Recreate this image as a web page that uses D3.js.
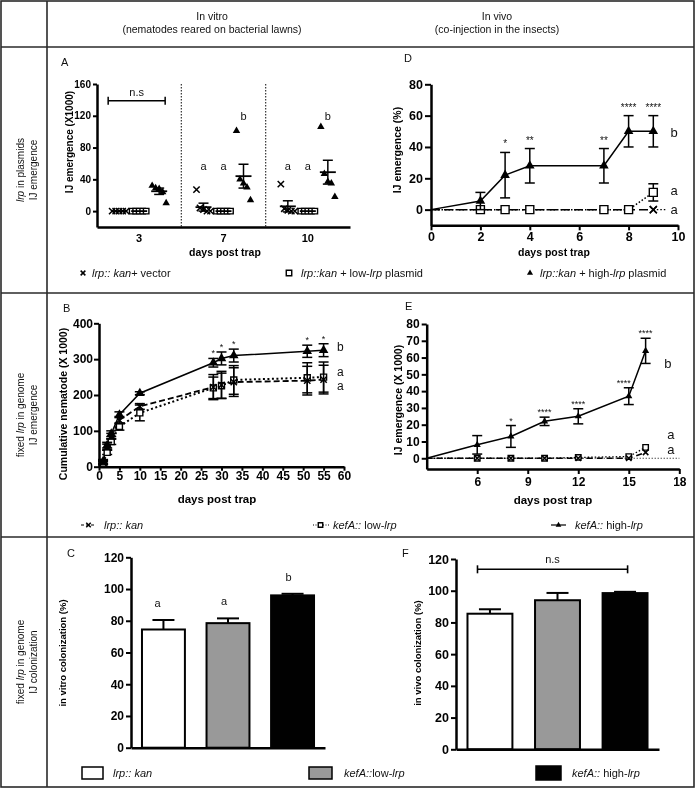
<!DOCTYPE html>
<html><head><meta charset="utf-8">
<script src="https://cdn.jsdelivr.net/npm/d3@7"></script>
<style>body{margin:0;background:#fff}svg{display:block;will-change:transform;opacity:0.999}text{white-space:pre}</style>
</head><body><script>
// ================= DATA =================
const headerLeft = ["In vitro", "(nematodes reared on bacterial lawns)"];
const headerRight = ["In vivo", "(co-injection in the insects)"];
const rowLabels = [
  [[["lrp", 1], [" in plasmids", 0]], [["IJ emergence", 0]]],
  [[["fixed ", 0], ["lrp", 1], [" in genome", 0]], [["IJ emergence", 0]]],
  [[["fixed ", 0], ["lrp", 1], [" in genome", 0]], [["IJ colonization", 0]]]
];

// Panel A (scatter, in vitro, plasmids)
const aDays = ["3", "7", "10"];
const aSeries = ["vector", "low", "high"];
const aVector = [[0, 0, 0, 0, 0], [27, 4, 2, 0, 0], [34, 3, 1, 0, 0]];
const aLow = [[0, 0, 0, 0, 0], [0, 0, 0, 0, 0], [0, 0, 0, 0, 0]];
const aHigh = [[32, 29, 28, 24, 10], [101, 40, 35, 30, 14], [106, 47, 37, 35, 18]];
const aMean = { vector: [0, 5, 6], low: [0, 0, 0], high: [25, 44, 49] };
const aSem = { vector: [0, 5, 7], low: [0, 0, 0], high: [4, 15, 15] };
const aLetters = [["", "", ""], ["a", "a", "b"], ["a", "a", "b"]];
const aYTicks = [0, 40, 80, 120, 160];

// Panel D (in vivo, plasmids, %)
const dDays = [0, 2, 3, 4, 7, 8, 9];
const dHigh = [0, 5.5, 22, 28, 28, 50, 50];
const dHighSem = [0, 5.5, 14.5, 11, 11, 10, 10];
const dLow = [0, 0, 0, 0, 0, 0, 11];
const dLowSem = [0, 0, 0, 0, 0, 0, 5.5];
const dVector = [0, 0, 0, 0, 0, 0, 0];
const dStars = ["", "", "*", "**", "**", "****", "****"];
const dYTicks = [0, 20, 40, 60, 80];
const dXTicks = [0, 2, 4, 6, 8, 10];

// Panel B (cumulative, in vitro, genome)
const bDays = [1, 2, 3, 5, 10, 28, 30, 33, 51, 55];
const bHigh = [15, 60, 92, 145, 205, 290, 302, 310, 322, 325];
const bHighSem = [5, 8, 8, 8, 4, 12, 18, 18, 17, 18];
const bKan = [12, 55, 85, 130, 168, 222, 228, 236, 240, 243];
const bKanSem = [5, 8, 8, 10, 8, 35, 38, 40, 40, 40];
const bLow = [10, 40, 70, 112, 150, 220, 226, 242, 248, 250];
const bLowSem = [5, 6, 8, 10, 22, 30, 35, 40, 42, 42];
const bStars = ["", "", "", "", "", "*", "*", "*", "*", "*"];
const bYTicks = [0, 100, 200, 300, 400];
const bXTicks = [0, 5, 10, 15, 20, 25, 30, 35, 40, 45, 50, 55, 60];

// Panel E (in vivo, genome)
const eDays = [3, 6, 8, 10, 12, 15, 16];
const eHigh = [0, 8, 13, 22, 25, 37, 64];
const eHighSem = [0, 5.5, 6.5, 2.5, 4.5, 5, 7.5];
const eLow = [0, 0, 0, 0, 0.5, 1, 6.5];
const eKan = [0, 0, 0, 0, 0, 0, 3.5];
const eStars = ["", "", "*", "****", "****", "****", "****"];
const eYTicks = [0, 10, 20, 30, 40, 50, 60, 70, 80];
const eXTicks = [6, 9, 12, 15, 18];

// Panels C & F (colonization bars)
const barGroups = ["lrp:: kan", "kefA::low-lrp", "kefA:: high-lrp"];
const barColors = ["#ffffff", "#999999", "#000000"];
const cValues = [74.5, 78.5, 96];
const cSem = [6, 3, 1];
const cLetters = ["a", "a", "b"];
const fValues = [85.5, 94, 98.5];
const fSem = [2.8, 4.6, 0.8];
const barYTicks = [0, 20, 40, 60, 80, 100, 120];

// ================= DRAWING =================
const FONT = "'Liberation Sans', Arial, Helvetica, sans-serif";
const svg = d3.select("body").append("svg").attr("width", 696).attr("height", 789)
  .attr("font-family", FONT);
svg.append("rect").attr("width", 696).attr("height", 789).attr("fill", "#fff");

const timesType = { draw(ctx, size) { const r = Math.sqrt(size) / 2; ctx.moveTo(-r, -r); ctx.lineTo(r, r); ctx.moveTo(r, -r); ctx.lineTo(-r, r); } };
function sym(g, kind, x, y, s) {
  if (kind === "tri") return g.append("path").attr("d", d3.symbol(d3.symbolTriangle, s)()).attr("transform", `translate(${x},${y})`).attr("fill", "#000");
  if (kind === "sq") return g.append("path").attr("d", d3.symbol(d3.symbolSquare, s)()).attr("transform", `translate(${x},${y})`).attr("fill", "#fff").attr("stroke", "#000").attr("stroke-width", 1.4);
  return g.append("path").attr("d", d3.symbol(timesType, s)()).attr("transform", `translate(${x},${y})`).attr("fill", "none").attr("stroke", "#000").attr("stroke-width", 1.5);
}
function rich(g, x, y, segs, size, anchor, weight) {
  const t = g.append("text").attr("x", x).attr("y", y).attr("font-size", size)
    .attr("text-anchor", anchor || "start").attr("font-weight", weight || "normal").attr("fill", "#111");
  segs.forEach(([s, it]) => t.append("tspan").text(s).attr("font-style", it ? "italic" : "normal"));
  return t;
}
function styleAxis(sel, fs) {
  sel.attr("font-family", FONT).attr("font-size", fs).attr("font-weight", "bold");
  sel.select(".domain").attr("stroke", "#000").attr("stroke-width", 2.5);
  sel.selectAll(".tick line").attr("stroke", "#000").attr("stroke-width", 2);
  sel.selectAll(".tick text").attr("fill", "#000");
}
function yLabel(g, x, y, txt, fs) {
  g.append("text").attr("transform", `translate(${x},${y}) rotate(-90)`).attr("text-anchor", "middle")
    .attr("font-size", fs).attr("font-weight", "bold").attr("fill", "#000").text(txt);
}
function xLabel(g, x, y, txt, fs) {
  g.append("text").attr("x", x).attr("y", y).attr("text-anchor", "middle")
    .attr("font-size", fs).attr("font-weight", "bold").attr("fill", "#000").text(txt);
}
function panelLetter(g, x, y, t) {
  g.append("text").attr("x", x).attr("y", y).attr("font-size", 11).attr("fill", "#111").text(t);
}
function errBar(g, x, y0, y1, hw, w) {
  g.append("line").attr("x1", x).attr("x2", x).attr("y1", y0).attr("y2", y1).attr("stroke", "#000").attr("stroke-width", w || 1.5);
  [y0, y1].forEach(yy => g.append("line").attr("x1", x - hw).attr("x2", x + hw).attr("y1", yy).attr("y2", yy).attr("stroke", "#000").attr("stroke-width", w || 1.5));
}

// ---------- frame ----------
const frame = svg.append("g").attr("stroke", "#2a2a2a").attr("stroke-width", 1.6).attr("fill", "none");
frame.append("rect").attr("x", 1).attr("y", 1).attr("width", 693).attr("height", 786);
frame.append("line").attr("x1", 47).attr("x2", 47).attr("y1", 1).attr("y2", 787);
[47, 293, 537].forEach(y => frame.append("line").attr("x1", 1).attr("x2", 694).attr("y1", y).attr("y2", y));

// header
const hdr = svg.append("g").attr("font-size", 10.5).attr("fill", "#111").attr("text-anchor", "middle");
headerLeft.forEach((t, i) => hdr.append("text").attr("x", 212).attr("y", 20 + i * 13).text(t));
headerRight.forEach((t, i) => hdr.append("text").attr("x", 497).attr("y", 20 + i * 13).text(t));

// row labels
const rowCenters = [170, 415, 662];
rowLabels.forEach((lines, r) => {
  lines.forEach((segs, i) => {
    const g = svg.append("g").attr("transform", `translate(${24 + i * 13},${rowCenters[r]}) rotate(-90)`);
    rich(g, 0, 0, segs, 10, "middle");
  });
});

// ---------- Panel A ----------
{
  const g = svg.append("g");
  const ax = d3.scaleBand().domain(aDays).range([97, 350]);
  const sub = d3.scalePoint().domain(aSeries).range([-20, 20]);
  const ay = d3.scaleLinear().domain([-20, 160]).range([227, 84]);
  aDays.slice(1).forEach(d => g.append("line").attr("x1", ax(d)).attr("x2", ax(d)).attr("y1", 84).attr("y2", 227)
    .attr("stroke", "#333").attr("stroke-width", 1.2).attr("stroke-dasharray", "1.5,1.5"));
  styleAxis(g.append("g").attr("transform", "translate(97,0)")
    .call(d3.axisLeft(ay).tickValues(aYTicks).tickSize(4).tickSizeOuter(0).tickPadding(2)), 10);
  styleAxis(g.append("g").attr("transform", "translate(0,227)")
    .call(d3.axisBottom(ax).tickSize(0).tickPadding(7)), 11);
  const pts = { vector: aVector, low: aLow, high: aHigh };
  const kinds = { vector: "x", low: "sq", high: "tri" };
  aDays.forEach((day, di) => {
    const cx0 = ax(day) + ax.bandwidth() / 2;
    aSeries.forEach(s => {
      const cx = cx0 + sub(s);
      pts[s][di].forEach((v, j) => sym(g, kinds[s], cx + (j - 2) * 3.5, ay(v), kinds[s] === "tri" ? 24 : (kinds[s] === "sq" ? 30 : 40)));
      const m = aMean[s][di], se = aSem[s][di];
      g.append("line").attr("x1", cx - 8).attr("x2", cx + 8).attr("y1", ay(m)).attr("y2", ay(m)).attr("stroke", "#000").attr("stroke-width", 1.8);
      if (se > 0) errBar(g, cx, ay(m - se), ay(m + se), 5, 1.5);
      const L = aLetters[di][aSeries.indexOf(s)];
      if (L) g.append("text").attr("x", cx).attr("y", L === "b" ? ay(120) + 4 : ay(57) + 4).attr("text-anchor", "middle").attr("font-size", 11).attr("fill", "#111").text(L);
    });
  });
  const bx0 = ax("3") + ax.bandwidth() / 2 + sub("vector") - 11, bx1 = ax("3") + ax.bandwidth() / 2 + sub("high") + 6;
  g.append("line").attr("x1", bx0).attr("x2", bx1).attr("y1", ay(139)).attr("y2", ay(139)).attr("stroke", "#000").attr("stroke-width", 1.5);
  [bx0, bx1].forEach(x => g.append("line").attr("x1", x).attr("x2", x).attr("y1", ay(139) - 4).attr("y2", ay(139) + 4).attr("stroke", "#000").attr("stroke-width", 1.5));
  g.append("text").attr("x", (bx0 + bx1) / 2).attr("y", ay(139) - 5).attr("text-anchor", "middle").attr("font-size", 11).attr("fill", "#111").text("n.s");
  panelLetter(g, 61, 66, "A");
  yLabel(g, 73, 142, "IJ emergence (X1000)", 10);
  xLabel(g, 225, 256, "days post trap", 10.5);
}

function linePanel(g, x, y, series, errHW) {
  series.forEach(s => {
    const pts = s.days.map((d, i) => ({ d, v: s.vals[i] }));
    g.append("path").datum(pts).attr("fill", "none").attr("stroke", "#000").attr("stroke-width", s.lw || 1.5)
      .attr("stroke-dasharray", s.dash || null)
      .attr("d", d3.line().x(p => x(p.d)).y(p => y(p.v)));
  });
  series.forEach(s => {
    s.days.forEach((d, i) => {
      if (s.skip && s.skip.includes(d)) return;
      const se = s.sem ? s.sem[i] : 0;
      if (se > 0) errBar(g, x(d), y(s.vals[i] - se), y(s.vals[i] + se), errHW, 1.5);
      sym(g, s.kind, x(d), y(s.vals[i]), s.size);
    });
  });
}

// ---------- Panel D ----------
{
  const g = svg.append("g");
  const x = d3.scaleLinear().domain([0, 10]).range([431, 678]);
  const y = d3.scaleLinear().domain([-10, 80]).range([225.3, 84.3]);
  styleAxis(g.append("g").attr("transform", "translate(431,0)")
    .call(d3.axisLeft(y).tickValues(dYTicks).tickSize(6).tickSizeOuter(0).tickPadding(2)), 12.5);
  styleAxis(g.append("g").attr("transform", "translate(0,225.3)")
    .call(d3.axisBottom(x).tickValues(dXTicks).tickSize(5).tickSizeOuter(0).tickPadding(2)), 12.5);
  linePanel(g, x, y, [
    { days: dDays, vals: dVector, kind: "x", size: 50, dash: "9,4", skip: [0] },
    { days: dDays, vals: dLow, sem: dLowSem, kind: "sq", size: 64, dash: "1.5,2", skip: [0] },
    { days: dDays, vals: dHigh, sem: dHighSem, kind: "tri", size: 40, skip: [0] }
  ], 5);
  g.append("line").attr("x1", x(9)).attr("x2", x(9.55)).attr("y1", y(0)).attr("y2", y(0)).attr("stroke", "#000").attr("stroke-width", 1.2).attr("stroke-dasharray", "1.5,2");
  sym(g, "x", x(9), y(0), 50);
  dDays.forEach((d, i) => {
    if (!dStars[i]) return;
    g.append("text").attr("x", x(d)).attr("y", y(dHigh[i] + dHighSem[i]) - 5).attr("text-anchor", "middle").attr("font-size", 10).attr("fill", "#111").text(dStars[i]);
  });
  const tx = x(9.7);
  g.append("text").attr("x", tx).attr("y", y(50) + 6).attr("font-size", 13).attr("fill", "#111").text("b");
  g.append("text").attr("x", tx).attr("y", y(12) + 4).attr("font-size", 13).attr("fill", "#111").text("a");
  g.append("text").attr("x", tx).attr("y", y(0) + 4).attr("font-size", 13).attr("fill", "#111").text("a");
  panelLetter(g, 404, 62, "D");
  yLabel(g, 401, 150, "IJ emergence (%)", 10.5);
  xLabel(g, 554, 256, "days post trap", 10.5);
}

// ---------- Panel B ----------
{
  const g = svg.append("g");
  const x = d3.scaleLinear().domain([0, 60]).range([99, 344]);
  const y = d3.scaleLinear().domain([0, 400]).range([466.7, 323.3]);
  styleAxis(g.append("g").attr("transform", "translate(99,0)")
    .call(d3.axisLeft(y).tickValues(bYTicks).tickSize(5).tickSizeOuter(0).tickPadding(1)), 12);
  styleAxis(g.append("g").attr("transform", "translate(0,466.7)")
    .call(d3.axisBottom(x).tickValues(bXTicks).tickSize(4).tickSizeOuter(0).tickPadding(1)), 12);
  linePanel(g, x, y, [
    { days: bDays, vals: bLow, sem: bLowSem, kind: "sq", size: 36, dash: "2,2.5", lw: 2 },
    { days: bDays, vals: bKan, sem: bKanSem, kind: "x", size: 40, dash: "6,3", lw: 1.8 },
    { days: bDays, vals: bHigh, sem: bHighSem, kind: "tri", size: 40 }
  ], 5);
  bDays.forEach((d, i) => {
    if (!bStars[i]) return;
    g.append("text").attr("x", x(d)).attr("y", y(bHigh[i] + bHighSem[i]) - 2).attr("text-anchor", "middle").attr("font-size", 9).attr("fill", "#111").text(bStars[i]);
  });
  const tx = x(58.3);
  g.append("text").attr("x", tx).attr("y", y(333) + 4).attr("font-size", 12).attr("fill", "#111").text("b");
  g.append("text").attr("x", tx).attr("y", y(264) + 4).attr("font-size", 12).attr("fill", "#111").text("a");
  g.append("text").attr("x", tx).attr("y", y(225) + 4).attr("font-size", 12).attr("fill", "#111").text("a");
  panelLetter(g, 63, 312, "B");
  yLabel(g, 67, 404, "Cumulative nematode (X 1000)", 10.5);
  xLabel(g, 217, 503, "days post trap", 11.5);
}

// ---------- Panel E ----------
{
  const g = svg.append("g");
  const x = d3.scaleLinear().domain([3, 18]).range([426.7, 679.3]);
  const y = d3.scaleLinear().domain([-6.4, 80]).range([469, 324]);
  g.append("line").attr("x1", x(3)).attr("x2", x(18)).attr("y1", y(0)).attr("y2", y(0)).attr("stroke", "#000").attr("stroke-width", 1).attr("stroke-dasharray", "1,2");
  styleAxis(g.append("g").attr("transform", "translate(426.7,0)")
    .call(d3.axisLeft(y).tickValues(eYTicks).tickSize(5).tickSizeOuter(0).tickPadding(2)), 12);
  styleAxis(g.append("g").attr("transform", "translate(0,469)")
    .call(d3.axisBottom(x).tickValues(eXTicks).tickSize(5).tickSizeOuter(0).tickPadding(3)), 12);
  linePanel(g, x, y, [
    { days: eDays, vals: eLow, kind: "sq", size: 30, dash: "1.5,2", lw: 1.3, skip: [3] },
    { days: eDays, vals: eKan, kind: "x", size: 30, dash: "6,4", lw: 1.6, skip: [3] },
    { days: eDays, vals: eHigh, sem: eHighSem, kind: "tri", size: 22, skip: [3] }
  ], 5);
  eDays.forEach((d, i) => {
    if (!eStars[i]) return;
    g.append("text").attr("x", x(d) - (d === 15 ? 5 : 0)).attr("y", y(eHigh[i] + eHighSem[i]) - 2).attr("text-anchor", "middle").attr("font-size", 9).attr("fill", "#111").text(eStars[i]);
  });
  const tx = x(17.1);
  g.append("text").attr("x", tx).attr("y", y(57) + 5).attr("font-size", 13).attr("fill", "#111").text("b");
  g.append("text").attr("x", tx + 3).attr("y", y(14.5) + 5).attr("font-size", 13).attr("fill", "#111").text("a");
  g.append("text").attr("x", tx + 3).attr("y", y(5.5) + 5).attr("font-size", 13).attr("fill", "#111").text("a");
  panelLetter(g, 405, 310, "E");
  yLabel(g, 402, 400, "IJ emergence (X 1000)", 10.5);
  xLabel(g, 553, 504, "days post trap", 11.5);
}

// ---------- bar panels ----------
function barPanel(g, xr, yr, vals, sems, fsTick) {
  const x = d3.scaleBand().domain(barGroups).range(xr).paddingInner(0.335).paddingOuter(0.17);
  const y = d3.scaleLinear().domain([0, 120]).range(yr);
  barGroups.forEach((k, i) => {
    const cx = x(k) + x.bandwidth() / 2;
    g.append("line").attr("x1", cx).attr("x2", cx).attr("y1", y(vals[i])).attr("y2", y(vals[i] + sems[i])).attr("stroke", "#000").attr("stroke-width", 2);
    g.append("line").attr("x1", cx - 11).attr("x2", cx + 11).attr("y1", y(vals[i] + sems[i])).attr("y2", y(vals[i] + sems[i])).attr("stroke", "#000").attr("stroke-width", 2);
    g.append("rect").attr("x", x(k)).attr("width", x.bandwidth()).attr("y", y(vals[i])).attr("height", y(0) - y(vals[i]))
      .attr("fill", barColors[i]).attr("stroke", "#000").attr("stroke-width", 2);
  });
  styleAxis(g.append("g").attr("transform", `translate(${xr[0]},0)`)
    .call(d3.axisLeft(y).tickValues(barYTicks).tickSize(5).tickSizeOuter(0).tickPadding(2)), fsTick);
  const xa = g.append("g").attr("transform", `translate(0,${yr[0]})`).call(d3.axisBottom(x).tickSize(0).tickFormat(""));
  styleAxis(xa, 10);
  return { x, y };
}
{
  const g = svg.append("g");
  const { x, y } = barPanel(g, [131, 325], [747.7, 557.3], cValues, cSem, 12);
  barGroups.forEach((k, i) => g.append("text").attr("x", x(k) + x.bandwidth() / 2 - (i === 0 ? 6 : 4)).attr("y", y(cValues[i] + cSem[i]) - 13)
    .attr("text-anchor", "middle").attr("font-size", 11).attr("fill", "#111").text(cLetters[i]));
  panelLetter(g, 67, 557, "C");
  yLabel(g, 66, 653, "in vitro colonization (%)", 9.5);
}
{
  const g = svg.append("g");
  const { x, y } = barPanel(g, [456, 659], [749.3, 559], fValues, fSem, 12.5);
  const x0 = x(barGroups[0]) + 10, x1 = x(barGroups[2]) + 25;
  const yy = y(113.5);
  g.append("line").attr("x1", x0).attr("x2", x1).attr("y1", yy).attr("y2", yy).attr("stroke", "#000").attr("stroke-width", 1.6);
  [x0, x1].forEach(xx => g.append("line").attr("x1", xx).attr("x2", xx).attr("y1", yy - 4).attr("y2", yy + 4).attr("stroke", "#000").attr("stroke-width", 1.6));
  g.append("text").attr("x", (x0 + x1) / 2).attr("y", yy - 6).attr("text-anchor", "middle").attr("font-size", 11).attr("fill", "#111").text("n.s");
  panelLetter(g, 402, 557, "F");
  yLabel(g, 421, 653, "in vivo colonization (%)", 9.5);
}

// ---------- legends ----------
{
  const g = svg.append("g");
  const fsL = 11;
  const y1 = 273;
  sym(g, "x", 83, y1, 22); rich(g, 92, y1 + 4, [["lrp:: kan", 1], ["+ vector", 0]], fsL);
  sym(g, "sq", 289, y1, 30); rich(g, 301, y1 + 4, [["lrp::kan", 1], [" + low-", 0], ["lrp", 1], [" plasmid", 0]], fsL);
  sym(g, "tri", 530, y1, 16); rich(g, 540, y1 + 4, [["lrp::kan", 1], [" + high-", 0], ["lrp", 1], [" plasmid", 0]], fsL);
  const y2 = 525;
  g.append("line").attr("x1", 81).attr("x2", 96).attr("y1", y2).attr("y2", y2).attr("stroke", "#000").attr("stroke-width", 1.2).attr("stroke-dasharray", "3,2");
  sym(g, "x", 88.5, y2, 20); rich(g, 104, y2 + 4, [["lrp:: kan", 1]], fsL);
  g.append("line").attr("x1", 313).attr("x2", 329).attr("y1", y2).attr("y2", y2).attr("stroke", "#000").attr("stroke-width", 1.2).attr("stroke-dasharray", "1,1.5");
  sym(g, "sq", 320.5, y2, 20); rich(g, 333, y2 + 4, [["kefA::", 1], [" low-", 0], ["lrp", 1]], fsL);
  g.append("line").attr("x1", 551).attr("x2", 566).attr("y1", y2).attr("y2", y2).attr("stroke", "#000").attr("stroke-width", 1.2);
  sym(g, "tri", 558.5, y2, 14); rich(g, 575, y2 + 4, [["kefA::", 1], [" high-", 0], ["lrp", 1]], fsL);
  const y3 = 773;
  const boxes = [[82, 21, 12, 113, [["lrp:: kan", 1]]], [309, 23, 12, 344, [["kefA::", 1], ["low-", 0], ["lrp", 1]]], [536, 25, 14, 572, [["kefA::", 1], [" high-", 0], ["lrp", 1]]]];
  boxes.forEach((b, i) => {
    g.append("rect").attr("x", b[0]).attr("y", y3 - b[2] / 2).attr("width", b[1]).attr("height", b[2]).attr("fill", barColors[i]).attr("stroke", "#000").attr("stroke-width", 1.5);
    rich(g, b[3], y3 + 4, b[4], fsL);
  });
}
</script></body></html>
